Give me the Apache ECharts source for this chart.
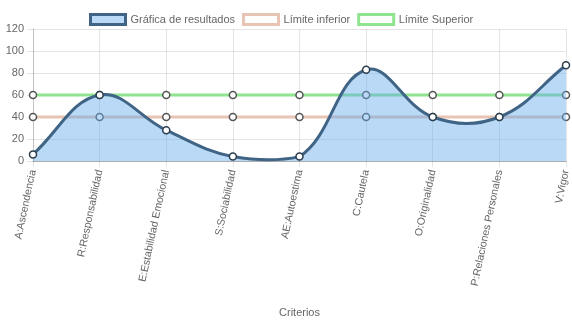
<!DOCTYPE html>
<html>
<head>
<meta charset="utf-8">
<script src="https://cdn.jsdelivr.net/npm/echarts@6/dist/echarts.min.js"></script>
<style>
  html, body { margin: 0; padding: 0; background: #fff; }
  #chart { width: 572px; height: 322px; }
</style>
</head>
<body>
<div id="chart"></div>
<script>
// Profile criteria and scores
const categories = [
  'A:Ascendencia', 'R:Responsabilidad', 'E:Estabilidad Emocional',
  'S:Sociabilidad', 'AE:Autoestima', 'C:Cautela',
  'O:Originalidad', 'P:Relaciones Personales', 'V:Vigor'
];
const resultados = [6, 60, 28, 4, 4, 83, 40, 40, 87];
const limiteInferior = [40, 40, 40, 40, 40, 40, 40, 40, 40];
const limiteSuperior = [60, 60, 60, 60, 60, 60, 60, 60, 60];
const yTicks = { min: 0, max: 120, interval: 20 };

const textColor = '#666';
const gridColor = 'rgba(0,0,0,0.1)';
const font = 'Arial, "Liberation Sans", Helvetica, sans-serif';
const resultLine = '#3f6485';
const resultFill = 'rgba(100,170,235,0.45)';
const lowColor = 'rgb(232,196,180)';
const highColor = 'rgb(144,228,144)';
const TENSION = 0.4;

const chart = echarts.init(document.getElementById('chart'), null, { renderer: 'canvas' });

// Cardinal-style spline (control points may overshoot, capped to the plot area)
function splinePath(api) {
  const pts = resultados.map((v, i) => api.coord([i, v]));
  const topY = api.coord([0, yTicks.max])[1];
  const botY = api.coord([0, yTicks.min])[1];
  const leftX = pts[0][0];
  const rightX = pts[pts.length - 1][0];
  const cap = (p) => [Math.min(Math.max(p[0], leftX), rightX), Math.min(Math.max(p[1], topY), botY)];
  const cps = pts.map((cur, i) => {
    const prev = pts[i - 1] || cur;
    const next = pts[i + 1] || cur;
    const d01 = Math.hypot(cur[0] - prev[0], cur[1] - prev[1]);
    const d12 = Math.hypot(next[0] - cur[0], next[1] - cur[1]);
    let s01 = d01 / (d01 + d12);
    let s12 = d12 / (d01 + d12);
    if (isNaN(s01)) s01 = 0;
    if (isNaN(s12)) s12 = 0;
    const fa = TENSION * s01, fb = TENSION * s12;
    const dx = next[0] - prev[0], dy = next[1] - prev[1];
    return {
      before: cap([cur[0] - fa * dx, cur[1] - fa * dy]),
      after: cap([cur[0] + fb * dx, cur[1] + fb * dy])
    };
  });
  let d = 'M' + pts[0][0] + ',' + pts[0][1];
  for (let i = 1; i < pts.length; i++) {
    const c1 = cps[i - 1].after, c2 = cps[i].before;
    d += ' C' + c1[0] + ',' + c1[1] + ' ' + c2[0] + ',' + c2[1] + ' ' + pts[i][0] + ',' + pts[i][1];
  }
  const area = d + ' L' + rightX + ',' + botY + ' L' + leftX + ',' + botY + ' Z';
  return { line: d, area: area };
}

const pointStyle = (border) => ({
  symbol: 'circle',
  symbolSize: 7,
  showAllSymbol: true,
  itemStyle: { color: '#fff', borderColor: border, borderWidth: 1.5 }
});

chart.setOption({
  animation: false,
  textStyle: { fontFamily: font },
  legend: {
    top: 8,
    left: 84,
    icon: 'rect',
    itemWidth: 35,
    itemHeight: 10,
    itemGap: 7,
    textStyle: { color: textColor, fontSize: 11, fontFamily: font },
    data: [
      { name: 'Gráfica de resultados', itemStyle: { color: resultFill, borderColor: resultLine, borderWidth: 3 } },
      { name: 'Límite inferior', itemStyle: { color: '#fff', borderColor: lowColor, borderWidth: 3 } },
      { name: 'Límite Superior', itemStyle: { color: '#fff', borderColor: highColor, borderWidth: 3 } }
    ]
  },
  grid: { left: 33, right: 3, top: 29, bottom: 161, containLabel: false },
  xAxis: {
    type: 'category',
    data: categories,
    boundaryGap: false,
    name: 'Criterios',
    nameLocation: 'middle',
    nameGap: 146,
    nameTextStyle: { color: textColor, fontSize: 11, fontFamily: font },
    axisLine: { show: true, lineStyle: { color: 'rgba(0,0,0,0.25)' } },
    axisTick: { show: true, alignWithLabel: true, length: 6, lineStyle: { color: gridColor } },
    axisLabel: { color: textColor, fontSize: 10.6, rotate: 78, margin: 9, interval: 0, fontFamily: font },
    splitLine: { show: true, lineStyle: { color: gridColor } }
  },
  yAxis: {
    type: 'value',
    min: yTicks.min,
    max: yTicks.max,
    interval: yTicks.interval,
    axisLine: { show: true, lineStyle: { color: 'rgba(0,0,0,0.15)' } },
    axisTick: { show: true, length: 6, lineStyle: { color: gridColor } },
    axisLabel: { color: textColor, fontSize: 11, margin: 9, fontFamily: font },
    splitLine: { show: true, lineStyle: { color: gridColor } }
  },
  series: [
    Object.assign({
      name: 'Límite inferior',
      type: 'line',
      data: limiteInferior,
      z: 1,
      lineStyle: { color: lowColor, width: 3 }
    }, pointStyle('#555')),
    Object.assign({
      name: 'Límite Superior',
      type: 'line',
      data: limiteSuperior,
      z: 1,
      lineStyle: { color: highColor, width: 3 }
    }, pointStyle('#555')),
    {
      name: 'curva-resultados',
      type: 'custom',
      z: 2,
      silent: true,
      data: resultados.map((v, i) => [i, v]),
      encode: { x: 0, y: 1 },
      renderItem: function (params, api) {
        if (params.dataIndex !== 0) return null;
        const p = splinePath(api);
        return {
          type: 'group',
          children: [
            { type: 'path', shape: { pathData: p.area }, style: { fill: resultFill, stroke: null } },
            { type: 'path', shape: { pathData: p.line }, style: { fill: null, stroke: resultLine, lineWidth: 3, lineJoin: 'round' } }
          ]
        };
      }
    },
    Object.assign({
      name: 'Gráfica de resultados',
      type: 'line',
      data: resultados,
      z: 3,
      lineStyle: { width: 0, opacity: 0 }
    }, pointStyle('#2a3d4d'))
  ]
});
</script>
</body>
</html>
